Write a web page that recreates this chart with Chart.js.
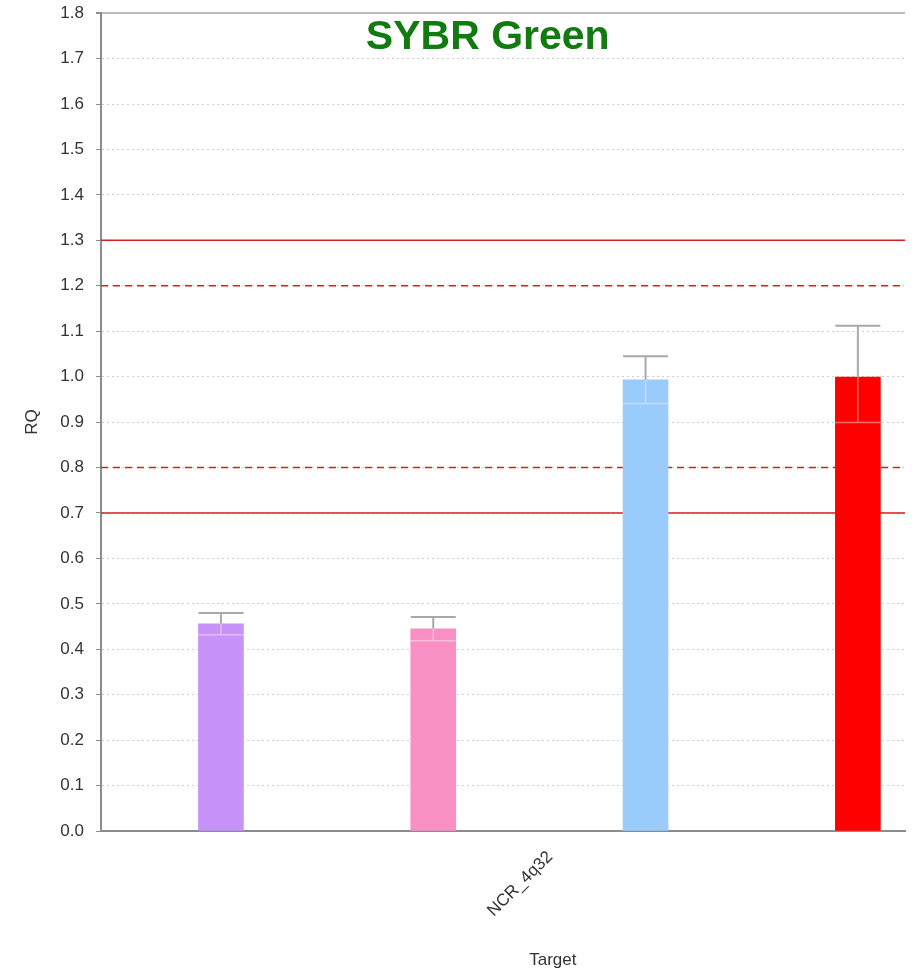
<!DOCTYPE html>
<html lang="en">

<head>
    <meta charset="UTF-8">
    <title>SYBR Green RQ</title>
    <script src="https://cdn.jsdelivr.net/npm/chart.js"></script>
    <style>
        body {
            margin: 0;
            background: #ffffff;
            overflow: hidden;
        }

        /* chart sits a little above the page edge so the top tick label is clipped */
        .chart-container {
            position: relative;
            width: 917px;
            height: 984px;
            margin-top: -9px;
        }
    </style>
</head>

<body>
    <div class="chart-container">
        <canvas id="rqChart"></canvas>
    </div>

    <script>
        // target on the x axis and the four samples measured for it
        const targetLabels = ['NCR_4q32'];
        const samplePositions = [1, 2, 3, 4];
        const rqValues = [0.456, 0.445, 0.993, 0.999];
        const rqMax = [0.480, 0.471, 1.045, 1.112];
        const rqMin = [0.432, 0.419, 0.941, 0.899];
        const sampleColors = ['#c893f8', '#f990c4', '#99cbfb', '#ff0000'];

        // threshold lines: solid at 0.7 / 1.3, dashed at 0.8 / 1.2
        const thresholdValues = [1.3, 1.2, 0.8, 0.7];
        const thresholdDashed = [false, true, true, false];

        const xMin = 0.435;
        const xMax = 4.222;

        const errorBars = {
            id: 'errorBars',
            afterDatasetsDraw(chart) {
                const meta = chart.getDatasetMeta(0);
                const yScale = chart.scales.y;
                const ctx = chart.ctx;
                ctx.save();
                meta.data.forEach((bar, i) => {
                    const half = bar.width / 2;
                    const topY = bar.y;
                    const hiY = yScale.getPixelForValue(rqMax[i]);
                    const loY = yScale.getPixelForValue(rqMin[i]);

                    // upper whisker
                    ctx.strokeStyle = '#a9a9a9';
                    ctx.lineWidth = 2;
                    ctx.beginPath();
                    ctx.moveTo(bar.x, topY);
                    ctx.lineTo(bar.x, hiY);
                    ctx.moveTo(bar.x - half, hiY);
                    ctx.lineTo(bar.x + half, hiY);
                    ctx.stroke();

                    // lower whisker sits inside the bar, barely visible on the pale ones
                    ctx.strokeStyle = 'rgba(255, 240, 240, 0.45)';
                    ctx.lineWidth = 1.5;
                    ctx.beginPath();
                    ctx.moveTo(bar.x, topY);
                    ctx.lineTo(bar.x, loY);
                    ctx.moveTo(bar.x - half, loY);
                    ctx.lineTo(bar.x + half, loY);
                    ctx.stroke();
                });
                ctx.restore();
            }
        };

        const chartTexts = {
            id: 'chartTexts',
            afterDraw(chart) {
                const ctx = chart.ctx;
                const area = chart.chartArea;
                ctx.save();
                ctx.textAlign = 'center';
                ctx.textBaseline = 'middle';

                ctx.fillStyle = '#117a11';
                ctx.font = 'bold 41px "Liberation Sans", Arial, sans-serif';
                ctx.fillText('SYBR Green', area.left + area.width * 0.481, area.top + 24);

                ctx.fillStyle = '#333333';
                ctx.font = '17px "Liberation Sans", Arial, sans-serif';
                ctx.fillText('Target', area.left + area.width * 0.562, area.bottom + 129);
                ctx.restore();
            }
        };

        const thresholdSets = thresholdValues.map((v, i) => ({
            type: 'line',
            data: [{ x: xMin, y: v }, { x: xMax, y: v }],
            borderColor: '#d81e1e',
            borderWidth: 1.5,
            borderDash: thresholdDashed[i] ? [7, 5] : [],
            pointRadius: 0,
            order: 2
        }));

        const data = {
            datasets: [
                {
                    type: 'bar',
                    data: samplePositions.map((x, i) => ({ x: x, y: rqValues[i] })),
                    backgroundColor: sampleColors,
                    barThickness: 45,
                    order: 1
                },
                ...thresholdSets
            ]
        };

        const config = {
            type: 'bar',
            data: data,
            options: {
                responsive: true,
                maintainAspectRatio: false,
                animation: false,
                layout: {
                    padding: { top: 4, right: 12, left: 0, bottom: 0 }
                },
                scales: {
                    x: {
                        type: 'linear',
                        min: xMin,
                        max: xMax,
                        offset: false,
                        grid: { display: false },
                        border: { display: true, color: '#8c8c8c', width: 2 },
                        afterBuildTicks: (axis) => {
                            axis.ticks = [{ value: 2.55 }];
                        },
                        afterFit: (axis) => {
                            axis.height = 144;
                        },
                        ticks: {
                            minRotation: 45,
                            maxRotation: 45,
                            padding: 8,
                            color: '#333333',
                            font: { family: '"Liberation Sans", Arial, sans-serif', size: 17 },
                            callback: () => targetLabels[0]
                        }
                    },
                    y: {
                        min: 0,
                        max: 1.8,
                        afterFit: (axis) => {
                            axis.width = 101;
                        },
                        grid: {
                            color: (c) => Math.abs(c.tick.value - 1.8) < 1e-6 ? '#bdbdbd' : '#cfcfcf',
                            lineWidth: (c) => Math.abs(c.tick.value - 1.8) < 1e-6 ? 2 : 1,
                            tickLength: 5,
                            tickColor: '#8c8c8c',
                            tickBorderDash: []
                        },
                        border: {
                            display: true,
                            color: '#8c8c8c',
                            width: 2,
                            dash: (c) => Math.abs(c.tick.value - 1.8) < 1e-6 ? [] : [2, 3]
                        },
                        ticks: {
                            stepSize: 0.1,
                            padding: 12,
                            color: '#333333',
                            font: { family: '"Liberation Sans", Arial, sans-serif', size: 17 },
                            callback: (v) => Number(v).toFixed(1)
                        },
                        title: {
                            display: true,
                            text: 'RQ',
                            color: '#333333',
                            padding: { top: 22, bottom: 0 },
                            font: { family: '"Liberation Sans", Arial, sans-serif', size: 17 }
                        }
                    }
                },
                plugins: {
                    legend: { display: false },
                    tooltip: { enabled: false }
                }
            },
            plugins: [errorBars, chartTexts]
        };

        const ctx = document.getElementById('rqChart').getContext('2d');
        const rqChart = new Chart(ctx, config);
    </script>
</body>

</html>
